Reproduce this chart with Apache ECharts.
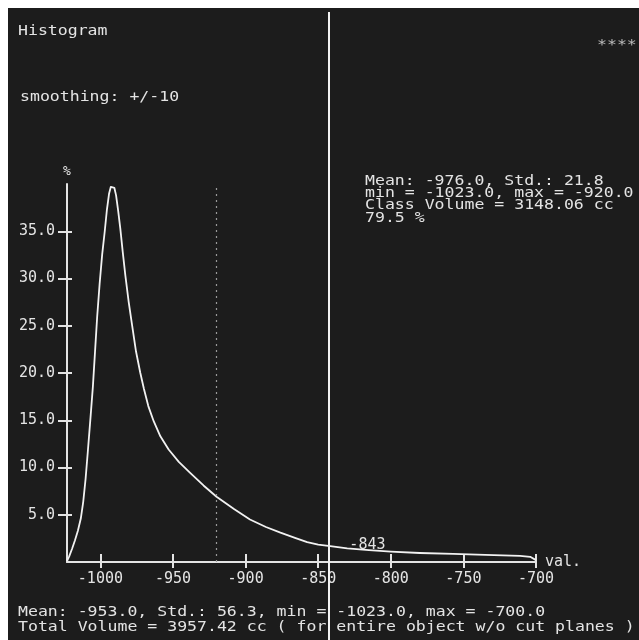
<!DOCTYPE html>
<html>
<head>
<meta charset="utf-8">
<script src="https://cdn.jsdelivr.net/npm/echarts@6/dist/echarts.min.js"></script>
<style>
html,body{margin:0;padding:0;background:#ffffff;width:639px;height:640px;overflow:hidden;}
#c{position:absolute;left:8px;top:8px;width:631px;height:632px;}
</style>
</head>
<body>
<div id="c"></div>
<script>
// ---- data ----
const xVals = [-1023,-1021.5,-1019.5,-1017.5,-1015.5,-1013.5,-1011.8,-1010.2,-1008.6,-1006.8,-1005.2,-1003.8,-1002.2,-1000.5,-998.8,-997,-995.5,-994,-992.8,-991.6,-990.4,-989.2,-987.8,-986.3,-984.6,-982.8,-980.5,-978.2,-975.5,-972.5,-970,-967,-963.3,-958.7,-953,-946,-938,-929,-920,-908,-897,-886,-876,-866,-857.6,-850,-843,-830,-815,-800,-780,-757,-735,-711,-704,-700];
const pctVals = [0.1,0.6,1.4,2.3,3.3,4.6,6.4,8.8,11.8,15.3,18.5,22,26,29.5,32.5,35,37.3,39,39.7,39.9,39.6,38.8,37.2,35.3,32.8,30.3,27.5,25.1,22.3,20,18.3,16.5,14.9,13.3,11.9,10.6,9.4,8.1,6.9,5.6,4.5,3.7,3.1,2.55,2.1,1.85,1.7,1.45,1.25,1.1,0.95,0.85,0.75,0.65,0.55,0.2];
const xTicks = [-1000,-950,-900,-850,-800,-750,-700];
const yTicks = [5,10,15,20,25,30,35];
const xRange = [-1023,-700];
const yRange = [0,40];
const classMax = -920;
const cursorVal = -843;
const cursorPct = 1.83;
const titleText = 'Histogram';
const smoothText = 'smoothing: +/-10';
const starsText = '****';
const classStats = ['Mean: -976.0, Std.: 21.8','min = -1023.0, max = -920.0','Class Volume = 3148.06 cc','79.5 %'];
const totalStats = ['Mean: -953.0, Std.: 56.3, min = -1023.0, max = -700.0','Total Volume = 3957.42 cc ( for entire object w/o cut planes )'];

const FONT = '"DejaVu Sans Mono", "Liberation Mono", monospace';
const FG = '#e4e4e4';
const chart = echarts.init(document.getElementById('c'));
const lbl = {color: FG, fontFamily: FONT, fontSize: 15};
const data = xVals.map((x,i)=>[x,pctVals[i]]);
const SX = 1.18;
const txt = (left, top, text, extra) => ({type:'text', left:left, top:top, scaleX:SX,
  style:Object.assign({text:text, fill:FG, font:'14px '+FONT}, extra||{})});

const option = {
  backgroundColor: '#1c1c1c',
  animation: false,
  grid: [
    {left: 59, right: 103, top: 176, bottom: 78},
    {left: 59, right: 103, top: 4, bottom: 0}
  ],
  xAxis: [
    {gridIndex:0, type:'value', min:xRange[0], max:xRange[1], position:'bottom',
     axisLine:{onZero:false, lineStyle:{color:FG, width:2}},
     axisTick:{show:true, inside:false, length:6, customValues:xTicks, lineStyle:{color:FG, width:2}},
     axisLabel:{customValues:xTicks, margin:10, formatter:v=>String(v), ...lbl},
     splitLine:{show:false},
     name:'val.', nameLocation:'end', nameGap:9,
     nameTextStyle:{...lbl, verticalAlign:'middle', padding:[11,0,0,0]}},
    {gridIndex:0, type:'value', min:xRange[0], max:xRange[1], position:'bottom',
     axisLine:{show:false, onZero:false},
     axisTick:{show:true, inside:true, length:8, customValues:xTicks, lineStyle:{color:FG, width:2}},
     axisLabel:{show:false}, splitLine:{show:false}},
    {gridIndex:1, type:'value', min:xRange[0], max:xRange[1], show:false}
  ],
  yAxis: [
    {gridIndex:0, type:'value', min:yRange[0], max:yRange[1], position:'left',
     axisLine:{show:true, onZero:false, lineStyle:{color:FG, width:2}},
     axisTick:{show:true, inside:false, length:9, customValues:yTicks, lineStyle:{color:FG, width:2}},
     axisLabel:{customValues:yTicks, margin:12, formatter:v=>v.toFixed(1), ...lbl},
     splitLine:{show:false},
     name:'%', nameLocation:'end', nameGap:6,
     nameTextStyle:{...lbl, fontSize:13, align:'center'}},
    {gridIndex:0, type:'value', min:yRange[0], max:yRange[1], position:'left',
     axisLine:{show:false, onZero:false},
     axisTick:{show:true, inside:true, length:5, customValues:yTicks, lineStyle:{color:FG, width:2}},
     axisLabel:{show:false}, splitLine:{show:false}},
    {gridIndex:1, type:'value', min:0, max:1, show:false}
  ],
  series: [
    {type:'line', xAxisIndex:0, yAxisIndex:0, data:data, showSymbol:false, symbol:'none',
     smooth:false, clip:false,
     lineStyle:{color:'#f2f2f2', width:1.8, join:'round'},
     markLine:{silent:true, symbol:'none', label:{show:false},
       lineStyle:{color:'#9a9a9a', width:1.2, type:[2,4]},
       data:[{xAxis:classMax}]},
     markPoint:{symbol:'circle', symbolSize:0,
       data:[{coord:[cursorVal,cursorPct]}],
       label:{show:true, position:'right', distance:21, formatter:String(cursorVal), ...lbl}}
    },
    {type:'line', xAxisIndex:2, yAxisIndex:2, data:[[cursorVal,0]], showSymbol:false, symbol:'none',
     lineStyle:{width:0},
     markLine:{silent:true, symbol:'none', label:{show:false},
       lineStyle:{color:'#f2f2f2', width:2, type:'solid'},
       data:[{xAxis:cursorVal}]}}
  ],
  graphic: [
    txt(10, 16, titleText),
    txt(12, 82, smoothText),
    txt(589, 30, starsText, {fill:'#bdbdbd'}),
    txt(357, 166, classStats.join('\n'), {lineHeight:12.4}),
    txt(10, 597, totalStats.join('\n'), {lineHeight:15})
  ]
};
chart.setOption(option);
</script>
</body>
</html>
